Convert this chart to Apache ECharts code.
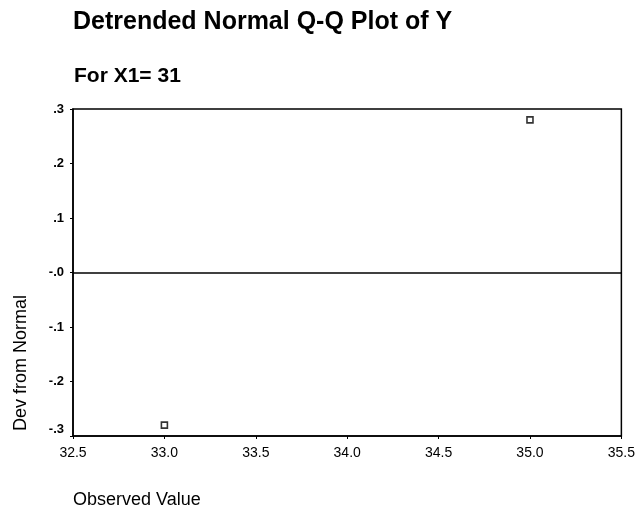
<!DOCTYPE html>
<html>
<head>
<meta charset="utf-8">
<script src="https://cdn.jsdelivr.net/npm/echarts@6/dist/echarts.min.js"></script>
<style>
html,body{margin:0;padding:0;background:#fff;}
#c{width:638px;height:509px;}
</style>
</head>
<body>
<div id="c"></div>
<script>
var titleText = 'Detrended Normal Q-Q Plot of Y';
var subtitleText = 'For X1= 31';
var xAxisTitle = 'Observed Value';
var yAxisTitle = 'Dev from Normal';
var observed = [33.0, 35.0];
var devFromNormal = [-0.28, 0.28];
var xTicks = [32.5, 33.0, 33.5, 34.0, 34.5, 35.0, 35.5];
var yTicks = [-0.3, -0.2, -0.1, 0.0, 0.1, 0.2, 0.3];
var referenceValue = [0];

var FONT = '"Liberation Sans", Arial, sans-serif';
var points = observed.map(function (x, i) { return [x, devFromNormal[i]]; });

function yFmt(v) {
  var r = Math.round(v * 10) / 10;
  var s;
  if (Math.abs(r) < 1e-9) s = '-.0';
  else s = (r < 0 ? '-' : '') + Math.abs(r).toFixed(1).replace(/^0/, '');
  if (Math.abs(r - yTicks[0]) < 1e-9) return '{low|' + s + '}';
  return s;
}

var chart = echarts.init(document.getElementById('c'), null, {renderer: 'canvas'});
chart.setOption({
  animation: false,
  backgroundColor: '#fff',
  textStyle: {fontFamily: FONT},
  grid: {left: 73, right: 15, top: 109, bottom: 73, show: true, borderColor: '#000', borderWidth: 1.5, backgroundColor: 'transparent'},
  xAxis: {
    type: 'value', min: xTicks[0], max: xTicks[xTicks.length - 1], interval: 0.5,
    axisLine: {show: true, onZero: false, lineStyle: {color: '#000', width: 1.5}},
    axisTick: {show: true, length: 3, lineStyle: {color: '#000'}},
    splitLine: {show: false},
    axisLabel: {color: '#000', fontSize: 14, fontFamily: FONT, margin: 10, formatter: function (v) { return v.toFixed(1); }}
  },
  yAxis: {
    type: 'value', min: yTicks[0], max: yTicks[yTicks.length - 1], interval: 0.1,
    axisLine: {show: true, onZero: false, lineStyle: {color: '#000', width: 1.5}},
    axisTick: {show: true, length: 3, lineStyle: {color: '#000'}},
    splitLine: {show: false},
    axisLabel: {
      color: '#000', fontSize: 13, fontFamily: FONT, fontWeight: 'bold', margin: 9, formatter: yFmt,
      rich: {low: {fontSize: 13, fontFamily: FONT, fontWeight: 'bold', color: '#000', padding: [0, 0, 14, 0]}}
    }
  },
  series: [{
    type: 'scatter',
    data: points,
    symbol: 'rect',
    symbolSize: 6,
    itemStyle: {color: '#fff', borderColor: '#000', borderWidth: 1.6},
    markLine: {
      silent: true, symbol: 'none', label: {show: false},
      lineStyle: {color: '#000', width: 1.5, type: 'solid'},
      data: referenceValue.map(function (v) { return {yAxis: v}; })
    }
  }],
  graphic: [
    {type: 'text', left: 73, top: 10, style: {text: titleText, font: 'bold 25px ' + FONT, fill: '#000'}},
    {type: 'text', left: 74, top: 66, style: {text: subtitleText, font: 'bold 21px ' + FONT, fill: '#000'}},
    {type: 'text', left: 73, top: 491, style: {text: xAxisTitle, font: '18px ' + FONT, fill: '#000'}},
    {type: 'text', x: 21, y: 363, rotation: Math.PI / 2, style: {text: yAxisTitle, font: '18px ' + FONT, fill: '#000', textAlign: 'center', textVerticalAlign: 'middle'}}
  ]
});
</script>
</body>
</html>
